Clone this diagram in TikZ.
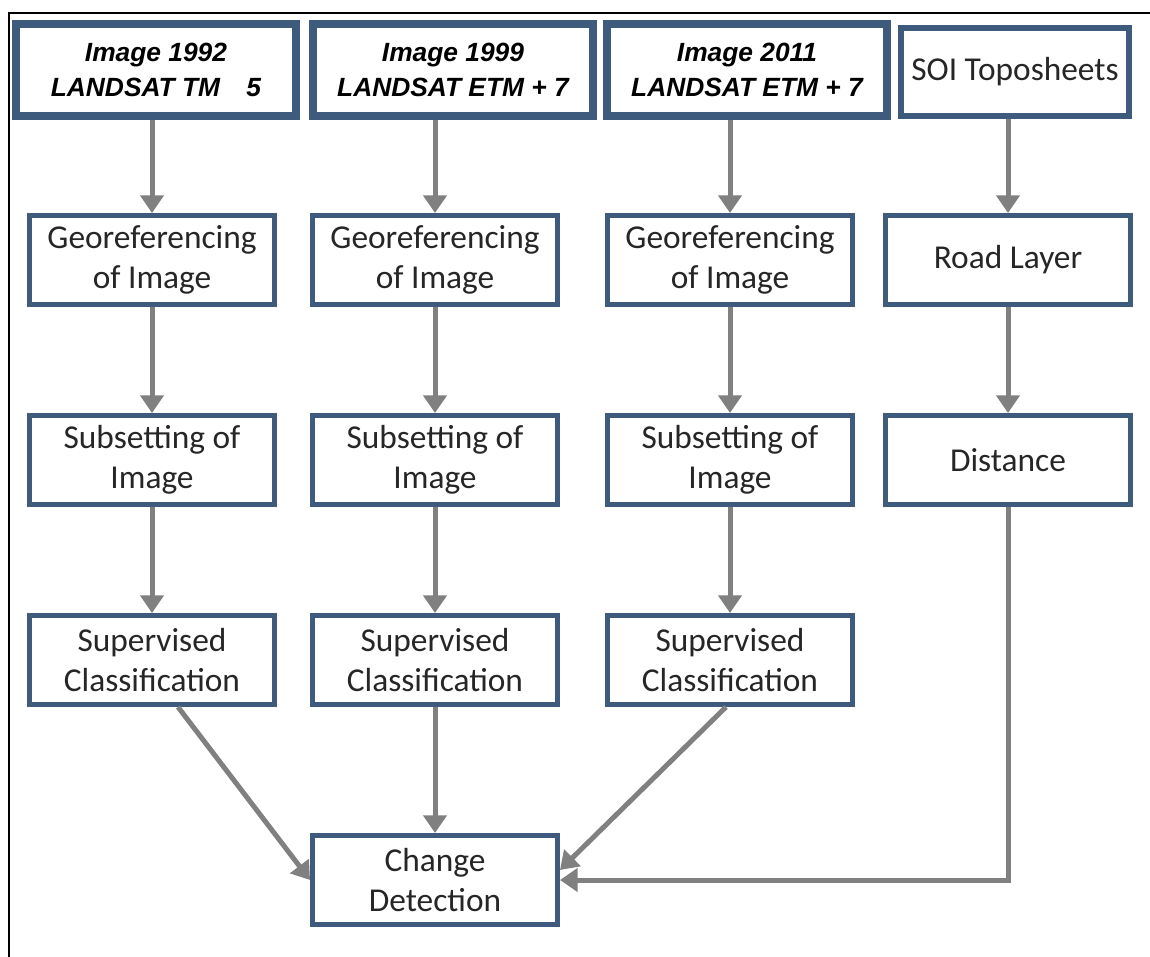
\documentclass[tikz,border=0pt]{standalone}
\usepackage{fontspec}
\setmainfont{Carlito}
\newfontfamily\landsatfont{Liberation Sans}
\usetikzlibrary{arrows.meta}
\definecolor{boxblue}{RGB}{62,90,125}
\definecolor{flowgray}{RGB}{128,128,128}

\begin{document}
\begin{tikzpicture}[x=0.02cm, y=-0.02cm,
    stepbox/.style={draw=boxblue, line width=0.1cm, fill=white, minimum width=4.9cm, minimum height=1.78cm, inner sep=0pt, align=center, text=black!85, font=\fontsize{19}{22.5}\selectfont},
    imgbox/.style={draw=boxblue, line width=0.16cm, fill=white, minimum width=5.6cm, minimum height=1.84cm, inner sep=0pt, align=center, font=\landsatfont\bfseries\itshape\fontsize{15}{19.5}\selectfont},
    flow/.style={draw=flowgray, line width=0.1cm, -{Triangle[length=10pt,width=13pt]}}]

    \useasboundingbox (0,0) rectangle (1150,957);
    \draw[line width=0.8pt] (1150,13) -- (9,13) -- (9,957);

    % input data
    \node[imgbox] at (156,70) (I1) {Image 1992\\LANDSAT TM\quad 5};
    \node[imgbox] at (453,70) (I2) {Image 1999\\LANDSAT ETM + 7};
    \node[imgbox] at (747,70) (I3) {Image 2011\\LANDSAT ETM + 7};
    \node[stepbox, line width=0.12cm, minimum width=4.58cm, minimum height=1.78cm] at (1015,72) (T) {SOI Toposheets};

    \node[stepbox] at (152,260) (G1) {Georeferencing\\of Image};
    \node[stepbox] at (435,260) (G2) {Georeferencing\\of Image};
    \node[stepbox] at (730,260) (G3) {Georeferencing\\of Image};
    \node[stepbox] at (1008,260) (R) {Road Layer};

    \node[stepbox] at (152,460) (S1) {Subsetting of\\Image};
    \node[stepbox] at (435,460) (S2) {Subsetting of\\Image};
    \node[stepbox] at (730,460) (S3) {Subsetting of\\Image};
    \node[stepbox] at (1008,460) (D) {Distance};

    \node[stepbox] at (152,660) (C1) {Supervised\\Classification};
    \node[stepbox] at (435,660) (C2) {Supervised\\Classification};
    \node[stepbox] at (730,660) (C3) {Supervised\\Classification};

    \node[stepbox] at (435,880) (CD) {Change\\Detection};

    \draw[flow] (G1 |- I1.south) -- (G1);
    \draw[flow] (G2 |- I2.south) -- (G2);
    \draw[flow] (G3 |- I3.south) -- (G3);
    \draw[flow] (R |- T.south) -- (R);

    \draw[flow] (G1) -- (S1);
    \draw[flow] (G2) -- (S2);
    \draw[flow] (G3) -- (S3);
    \draw[flow] (R) -- (D);

    \draw[flow] (S1) -- (C1);
    \draw[flow] (S2) -- (C2);
    \draw[flow] (S3) -- (C3);

% into change detection
    \draw[flow] ([xshift=0.52cm]C1.south) -- (CD.west);
    \draw[flow] (C2) -- (CD);
    \draw[flow] ([xshift=-0.08cm]C3.south) -- ([yshift=0.2cm]CD.east);
    \draw[flow] (D.south) |- (CD.east);

\end{tikzpicture}
\end{document}
